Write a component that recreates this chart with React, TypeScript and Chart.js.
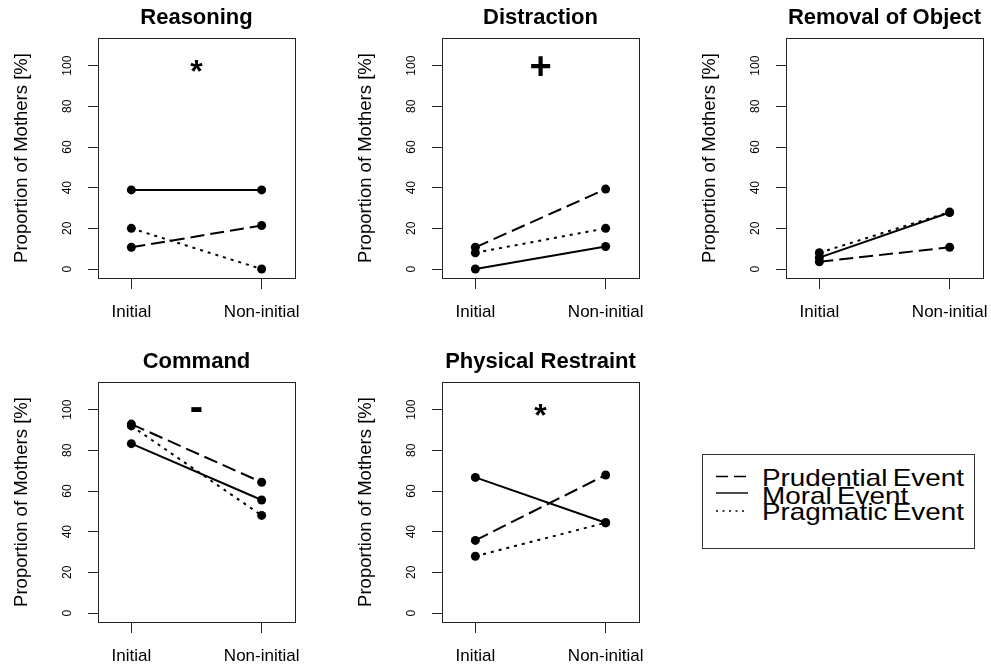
import React, { useEffect, useRef } from "react";
import { Chart, registerables } from "chart.js";

Chart.register(...registerables);

const FONT = "'Liberation Sans', Arial, Helvetica, sans-serif";

// ---------- data ----------
const conditions = ["Initial", "Non-initial"];
const conditionPositions = [1, 2];
const yTickValues = [0, 20, 40, 60, 80, 100];
const seriesNames = ["Prudential Event", "Moral Event", "Pragmatic Event"];
const panelTitles = ["Reasoning", "Distraction", "Removal of Object", "Command", "Physical Restraint"];
const panelMarks = ["*", "+", "", "-", "*"];
const markSizes = [32, 38, 0, 40, 32];

// [Initial, Non-initial] per panel
const prudentialValues = [
  [10.7, 21.4],
  [10.7, 39.3],
  [3.6, 10.7],
  [92.9, 64.3],
  [35.7, 67.9],
];
const moralValues = [
  [38.9, 38.9],
  [0, 11.1],
  [5.6, 27.8],
  [83.3, 55.6],
  [66.7, 44.4],
];
const pragmaticValues = [
  [20, 0],
  [8, 20],
  [8, 28],
  [92, 48],
  [27.9, 44.4],
];

// ---------- plugins ----------
const boxPlugin = {
  id: "rbox",
  afterDraw(chart: any) {
    const { ctx, chartArea: a } = chart;
    ctx.save();
    ctx.strokeStyle = "#222";
    ctx.lineWidth = 1;
    ctx.strokeRect(
      Math.round(a.left) + 0.5,
      Math.round(a.top) + 0.5,
      Math.round(a.right - a.left),
      Math.round(a.bottom - a.top)
    );
    ctx.restore();
  },
};

const markPlugin = {
  id: "rmark",
  afterDatasetsDraw(chart: any, _args: any, opts: any) {
    if (!opts || !opts.text) return;
    const x = chart.scales.x.getPixelForValue(opts.x);
    const y = chart.scales.y.getPixelForValue(opts.y);
    const ctx = chart.ctx;
    ctx.save();
    ctx.font = `bold ${opts.size}px ${FONT}`;
    ctx.fillStyle = "#000";
    ctx.textAlign = "center";
    ctx.textBaseline = "alphabetic";
    const m = ctx.measureText(opts.text);
    const dy = (m.actualBoundingBoxAscent - m.actualBoundingBoxDescent) / 2;
    ctx.fillText(opts.text, x, y + dy);
    ctx.restore();
  },
};

function makeConfig(i: number): any {
  const seriesData = [prudentialValues[i], moralValues[i], pragmaticValues[i]];
  const dashes = [[14, 6], [], [3, 5]];
  return {
    type: "line",
    data: {
      datasets: seriesData.map((vals, k) => ({
        label: seriesNames[k],
        data: vals.map((v, j) => ({ x: conditionPositions[j], y: v })),
        borderColor: "#000",
        backgroundColor: "#000",
        borderWidth: 2,
        borderDash: dashes[k],
        pointRadius: 4.5,
        pointHoverRadius: 4.5,
        pointBackgroundColor: "#000",
        pointBorderWidth: 0,
        fill: false,
        tension: 0,
      })),
    },
    options: {
      responsive: false,
      animation: false,
      events: [],
      layout: { padding: { left: 0, right: 35, top: 0, bottom: 0 } },
      plugins: {
        legend: { display: false },
        tooltip: { enabled: false },
        title: {
          display: true,
          text: panelTitles[i],
          color: "#000",
          font: { family: FONT, size: 22, weight: "bold" },
          padding: { top: 4.3, bottom: 7.3 },
          fullSize: false,
        },
        rmark: { text: panelMarks[i], x: 1.5, y: 100, size: markSizes[i] },
      },
      scales: {
        x: {
          type: "linear",
          min: 0.744,
          max: 2.256,
          afterBuildTicks: (s: any) => {
            s.ticks = conditionPositions.map((v) => ({ value: v }));
          },
          afterFit: (s: any) => {
            s.height = 55;
          },
          ticks: {
            callback: (v: number) => {
              const idx = conditionPositions.indexOf(v);
              return idx >= 0 ? conditions[idx] : "";
            },
            font: { family: FONT, size: 17 },
            color: "#000",
            padding: 13.5,
            minRotation: 0,
            maxRotation: 0,
            autoSkip: false,
          },
          grid: { drawOnChartArea: false, drawTicks: true, tickLength: 11, color: "#222", lineWidth: 1 },
          border: { display: false },
        },
        y: {
          type: "linear",
          min: -4.4,
          max: 113.6,
          afterBuildTicks: (s: any) => {
            s.ticks = yTickValues.map((v) => ({ value: v }));
          },
          afterFit: (s: any) => {
            s.width = 98;
          },
          ticks: {
            callback: (v: number) => String(v),
            font: { family: FONT, size: 12 },
            color: "#000",
            padding: 10,
            minRotation: 90,
            maxRotation: 90,
            crossAlign: "center",
            autoSkip: false,
          },
          grid: { drawOnChartArea: false, drawTicks: true, tickLength: 10, color: "#222", lineWidth: 1 },
          border: { display: false },
          title: {
            display: true,
            text: "Proportion of Mothers [%]",
            color: "#000",
            font: { family: FONT, size: 18.5 },
            padding: { top: 11, bottom: 0 },
          },
        },
      },
    },
    plugins: [boxPlugin, markPlugin],
  };
}

function Panel({ index, left, top }: { index: number; left: number; top: number }) {
  const ref = useRef<HTMLCanvasElement>(null);
  useEffect(() => {
    if (!ref.current) return;
    const chart = new Chart(ref.current, makeConfig(index));
    return () => chart.destroy();
  }, [index]);
  return (
    <canvas
      ref={ref}
      width={330}
      height={333}
      style={{ position: "absolute", left, top, width: 330, height: 333 }}
    />
  );
}

const panelLefts = [0, 344, 688, 0, 344];
const panelTops = [0, 0, 0, 344, 344];

export default function App() {
  const legendDash = ["12 6", "", "2 4.5"];
  const legendRowY = [22.5, 39, 57];
  const legendTextTop = [466.4, 483.7, 500.4];
  return (
    <div
      style={{
        position: "absolute",
        left: 0,
        top: 0,
        width: 991,
        height: 667,
        overflow: "hidden",
        background: "#fff",
        fontFamily: FONT,
      }}
    >
      {panelTitles.map((_, i) => (
        <Panel key={i} index={i} left={panelLefts[i]} top={panelTops[i]} />
      ))}
      <div
        style={{
          position: "absolute",
          left: 702,
          top: 454,
          width: 273,
          height: 95,
          border: "1px solid #333",
          boxSizing: "border-box",
        }}
      />
      <svg
        style={{ position: "absolute", left: 702, top: 454 }}
        width={60}
        height={95}
      >
        {seriesNames.map((_, k) => (
          <line
            key={k}
            x1={14}
            x2={46}
            y1={legendRowY[k]}
            y2={legendRowY[k]}
            stroke="#000"
            strokeWidth={1.4}
            strokeDasharray={legendDash[k] || undefined}
          />
        ))}
      </svg>
      {seriesNames.map((name, k) => (
        <div
          key={k}
          style={{
            position: "absolute",
            left: 762,
            top: legendTextTop[k],
            fontSize: 24,
            lineHeight: "24px",
            whiteSpace: "nowrap",
            color: "#000",
            transform: "scaleX(1.16)",
            transformOrigin: "0 0",
            wordSpacing: -2,
          }}
        >
          {name}
        </div>
      ))}
    </div>
  );
}
